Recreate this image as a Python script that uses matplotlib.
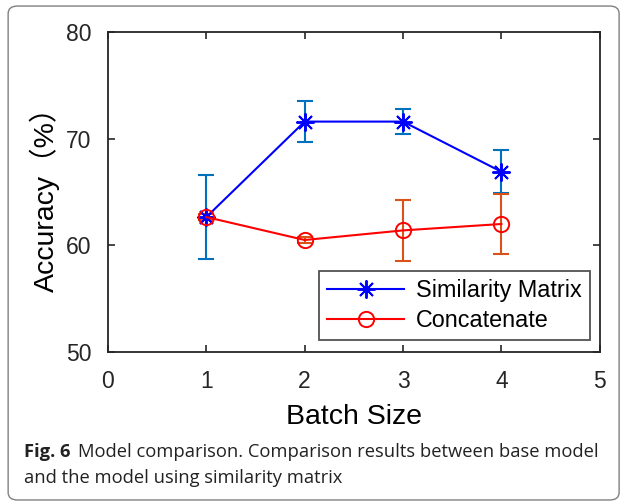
import matplotlib.pyplot as plt
from matplotlib.patches import FancyBboxPatch

batch_size = [1, 2, 3, 4]
sim_acc = [62.65, 71.6, 71.6, 66.9]
sim_err = [3.9, 1.9, 1.2, 2.0]
cat_acc = [62.65, 60.5, 61.4, 62.0]
cat_err = [0.3, 0.3, 2.85, 2.85]

plt.rcParams['font.family'] = ['Liberation Sans', 'Noto Sans CJK SC', 'DejaVu Sans']

fig = plt.figure(figsize=(6.26, 5.03), dpi=100)
ax = fig.add_axes([0.1725, 0.3002, 0.7855, 0.6362])

# error bars first (MATLAB default colours), then the lines on top
ax.errorbar(batch_size, sim_acc, yerr=sim_err, fmt='none', ecolor='#0072BD',
            elinewidth=1.5, capsize=5.5, capthick=1.5)
ax.errorbar(batch_size, cat_acc, yerr=cat_err, fmt='none', ecolor='#D95319',
            elinewidth=1.5, capsize=5.5, capthick=1.5)
asterisk = (8, 2, 0)
ax.plot(batch_size, sim_acc, color='b', marker=asterisk, lw=1.5, ms=13, mew=1.4,
        label='Similarity Matrix')
ax.plot(batch_size, cat_acc, 'r-o', lw=1.5, ms=11, mfc='none', mew=1.4, label='Concatenate')

ax.set_xlim(0, 5)
ax.set_ylim(50, 80)
ax.set_xticks([0, 1, 2, 3, 4, 5])
ax.set_yticks([50, 60, 70, 80])
ax.tick_params(direction='in', length=5, width=1.2, labelsize=16.5, top=True, right=True,
               colors='#262626')
ax.tick_params(axis='x', pad=13)
ax.tick_params(axis='y', pad=12)
for s in ax.spines.values():
    s.set_linewidth(1.3)
    s.set_color('#262626')
ax.set_xlabel('Batch Size', fontsize=20.5, labelpad=8)
ax.set_ylabel('Accuracy（%）', fontsize=20.5, labelpad=4)

leg = ax.legend(loc='lower right', bbox_to_anchor=(0.98, 0.037), borderaxespad=0,
                fontsize=16.8, frameon=True, fancybox=False, edgecolor='#262626',
                handlelength=3.3, borderpad=0.35, labelspacing=0.3, handletextpad=0.5)
leg.get_frame().set_linewidth(1.3)

# rounded frame around the whole figure
fig.patches.append(FancyBboxPatch((0.013, 0.006), 0.976, 0.982,
                                  boxstyle='round,pad=0,rounding_size=0.015',
                                  transform=fig.transFigure, fill=False,
                                  edgecolor='#808080', lw=1.0))

cap_font = ['Open Sans', 'DejaVu Sans']
fig.text(0.038, 0.101, 'Fig. 6', fontsize=13.2, fontweight='bold', family=cap_font,
         color='#222222', va='center')
fig.text(0.124, 0.101, 'Model comparison. Comparison results between base model',
         fontsize=13.2, family=cap_font, color='#222222', va='center')
fig.text(0.038, 0.050, 'and the model using similarity matrix',
         fontsize=13.2, family=cap_font, color='#222222', va='center')

fig.savefig('out.png', dpi=100)
